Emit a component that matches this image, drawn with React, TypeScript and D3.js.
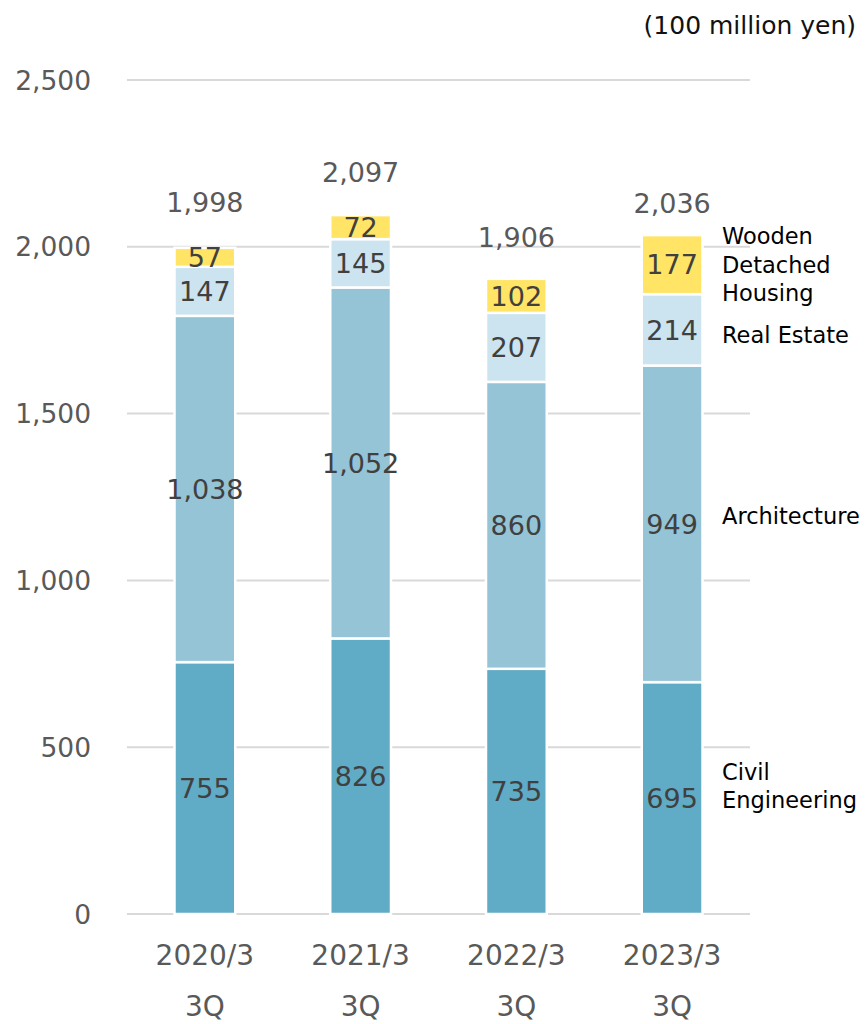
import React from "react";
import * as d3 from "d3";

const categories = ["2020/3", "2021/3", "2022/3", "2023/3"];
const civilEngineering = [755, 826, 735, 695];
const architecture = [1038, 1052, 860, 949];
const realEstate = [147, 145, 207, 214];
const woodenHousing = [57, 72, 102, 177];
const totals = [1998, 2097, 1906, 2036];
const yTicks = [0, 500, 1000, 1500, 2000, 2500];
const seriesNames = ["Civil Engineering", "Architecture", "Real Estate", "Wooden Detached Housing"];
const seriesColors = ["#60abc5", "#94c4d6", "#cce4ef", "#ffe466"];

const W = 867;
const H = 1024;
const FONT = "'DejaVu Sans', Verdana, sans-serif";

export default function App() {
  const x = d3.scaleBand<string>().domain(categories).range([127, 750]).paddingInner(0.61).paddingOuter(0.305);
  const y = d3.scaleLinear().domain([0, 2500]).range([914, 80]);

  const rows = categories.map((c, i) => ({
    cat: c,
    "Civil Engineering": civilEngineering[i],
    Architecture: architecture[i],
    "Real Estate": realEstate[i],
    "Wooden Detached Housing": woodenHousing[i],
  }));
  const stacked = d3.stack<any>().keys(seriesNames)(rows);

  const last = categories[categories.length - 1];
  const legendX = 722;
  const legendLines: string[][] = [["Civil", "Engineering"], ["Architecture"], ["Real Estate"], ["Wooden", "Detached", "Housing"]];
  const legendOffsets = [-12, -8, 5, 0];
  const totalGap = [35, 32, 31, 22];

  return (
    <svg width={W} height={H} style={{ position: "absolute", left: 0, top: 0, background: "#fff" }} fontFamily={FONT}>
      {yTicks.map((t) => (
        <g key={t}>
          <line x1={127} x2={750} y1={y(t)} y2={y(t)} stroke="#d9d9d9" strokeWidth={2} />
          <text x={91} y={y(t)} dy="0.36em" textAnchor="end" fontSize={26.5} fill="#595959">
            {d3.format(",")(t)}
          </text>
        </g>
      ))}
      {stacked.map((s, si) => (
        <g key={s.key}>
          {s.map((d, i) => (
            <rect
              key={i}
              x={x(categories[i])}
              width={x.bandwidth()}
              y={y(d[1])}
              height={y(d[0]) - y(d[1])}
              fill={seriesColors[si]}
              stroke="#fff"
              strokeWidth={2.5}
            />
          ))}
          {s.map((d, i) => (
            <text
              key={"t" + i}
              x={(x(categories[i]) as number) + x.bandwidth() / 2}
              y={(y(d[0]) + y(d[1])) / 2}
              dy="0.36em"
              textAnchor="middle"
              fontSize={27}
              fill="#404040"
            >
              {d3.format(",")(d[1] - d[0])}
            </text>
          ))}
        </g>
      ))}
      {totals.map((t, i) => (
        <text
          key={i}
          x={(x(categories[i]) as number) + x.bandwidth() / 2}
          y={y(t) - totalGap[i]}
          textAnchor="middle"
          fontSize={27}
          fill="#595959"
        >
          {d3.format(",")(t)}
        </text>
      ))}
      {categories.map((c) => (
        <g key={c}>
          <text x={(x(c) as number) + x.bandwidth() / 2} y={965} textAnchor="middle" fontSize={28} fill="#595959">
            {c}
          </text>
          <text x={(x(c) as number) + x.bandwidth() / 2} y={1016} textAnchor="middle" fontSize={28} fill="#595959">
            3Q
          </text>
        </g>
      ))}
      {stacked.map((s, si) => {
        const d = s.find((v: any) => v.data.cat === last)!;
        const mid = (y(d[0]) + y(d[1])) / 2 + legendOffsets[si];
        const lines = legendLines[si];
        const lh = 28.5;
        const start = mid - ((lines.length - 1) * lh) / 2;
        return (
          <text key={s.key} fontSize={22.5} fill="#000">
            {lines.map((l, li) => (
              <tspan key={li} x={legendX} y={start + li * lh} dy="0.36em">
                {l}
              </tspan>
            ))}
          </text>
        );
      })}
      <text x={856} y={25} dy="0.36em" textAnchor="end" fontSize={25} fill="#111">
        (100 million yen)
      </text>
    </svg>
  );
}
